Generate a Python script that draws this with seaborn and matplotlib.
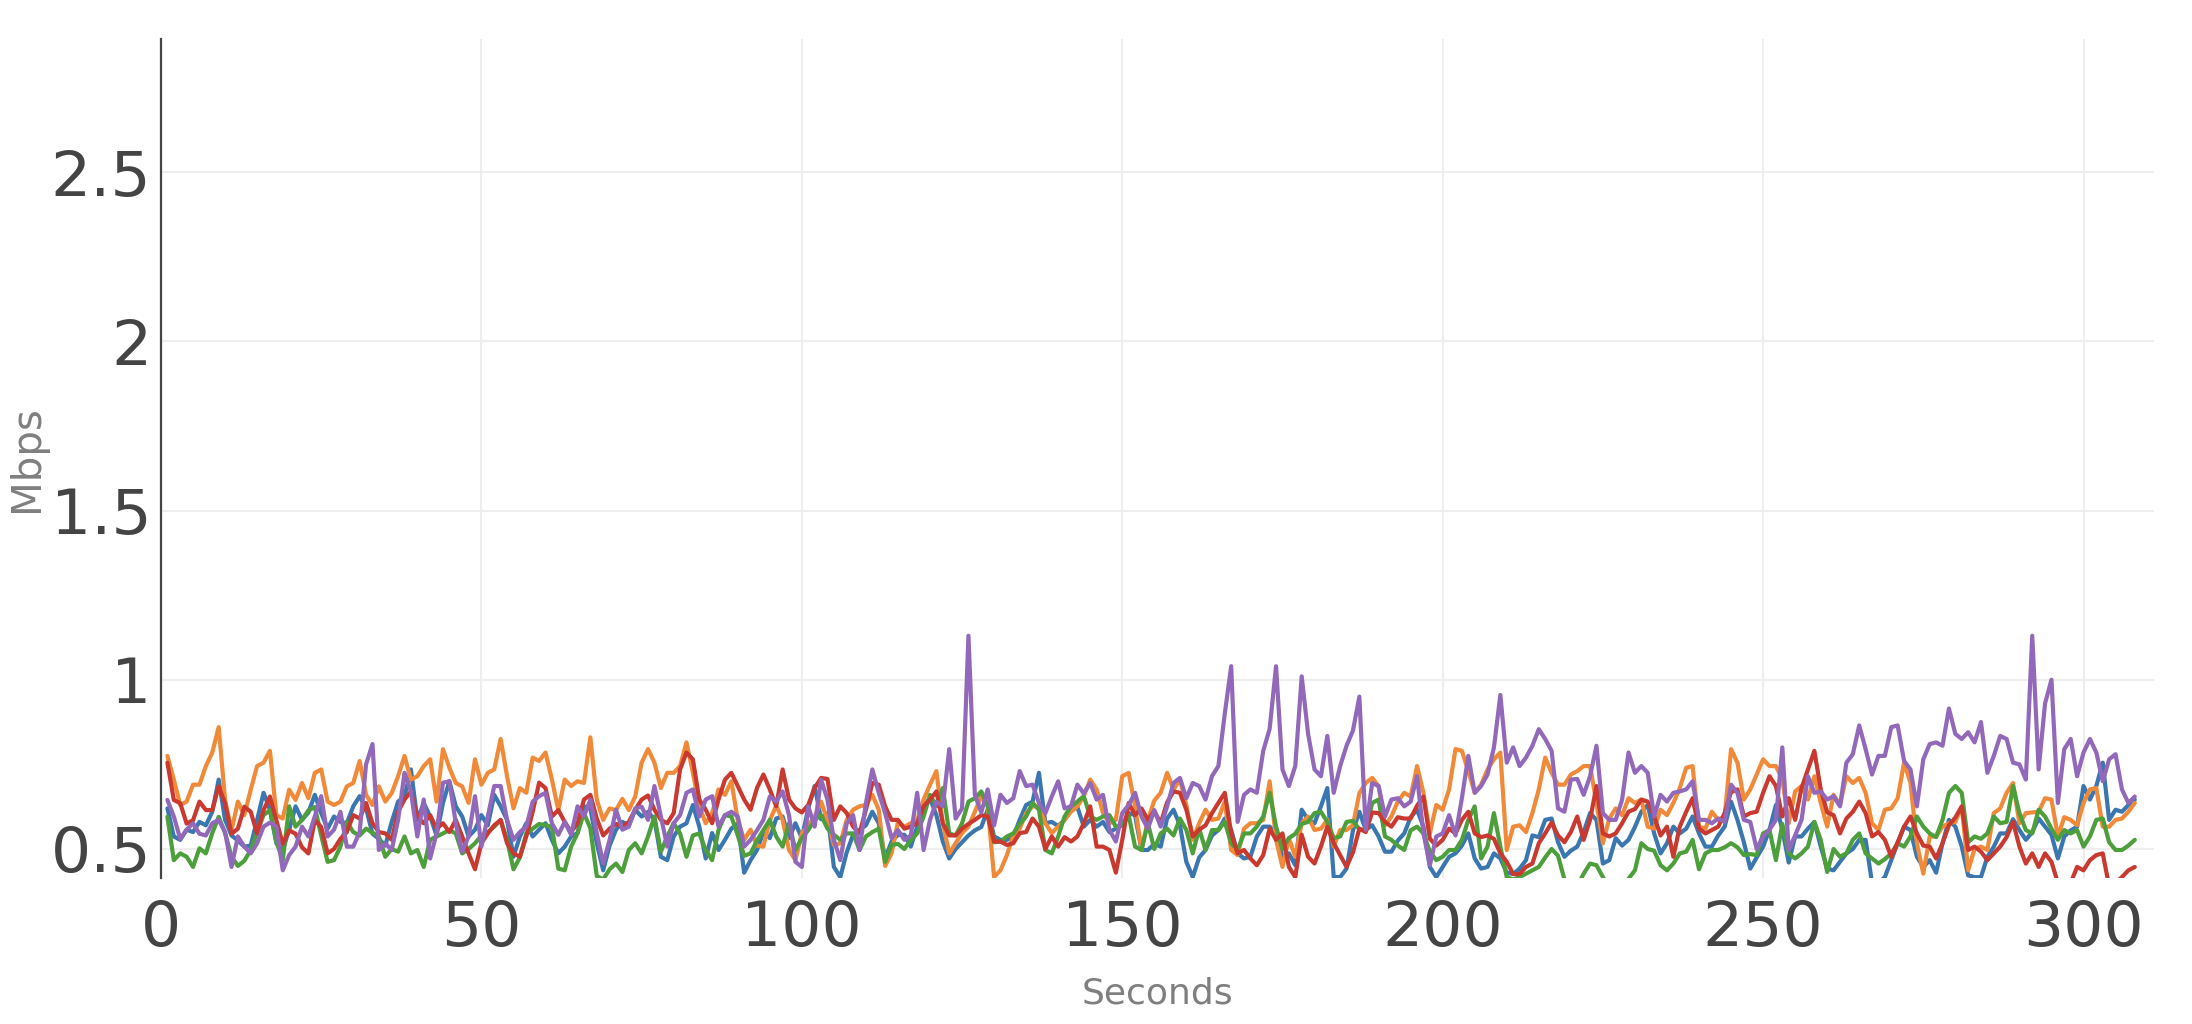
import numpy as np
import pandas as pd
import matplotlib
matplotlib.use("Agg")
import matplotlib.pyplot as plt
import seaborn as sns

# ---- data (one value per second, t = 1..308) ----
blue = [
    0.62, 0.537, 0.527, 0.557, 0.55, 0.58, 0.57, 0.61, 0.705, 0.586,
    0.54, 0.525, 0.507, 0.51, 0.586, 0.666, 0.616, 0.517, 0.497, 0.557,
    0.626, 0.586, 0.608, 0.66, 0.606, 0.56, 0.596, 0.58, 0.576, 0.626, 0.656,
    0.62, 0.545, 0.53, 0.51, 0.58, 0.64, 0.655, 0.735, 0.586, 0.636,
    0.596, 0.54, 0.636, 0.70, 0.626, 0.596, 0.537, 0.557, 0.60, 0.57,
    0.66, 0.626, 0.586, 0.477, 0.537, 0.576, 0.537, 0.557, 0.576, 0.527,
    0.487, 0.507, 0.537, 0.547, 0.626, 0.62, 0.517, 0.437, 0.51, 0.557,
    0.58, 0.57, 0.616, 0.596, 0.61, 0.586, 0.477, 0.467, 0.537, 0.566,
    0.576, 0.63, 0.566, 0.472, 0.547, 0.497, 0.527, 0.56, 0.576, 0.43, 0.467,
    0.497,
    0.55, 0.532, 0.59, 0.596, 0.532, 0.576, 0.532, 0.62, 0.686, 0.588,
    0.606, 0.447, 0.417, 0.49, 0.542, 0.556, 0.57, 0.61, 0.576, 0.472,
    0.522, 0.542, 0.542, 0.507, 0.566, 0.626, 0.65, 0.60, 0.522, 0.472, 0.50,
    0.52, 0.54, 0.555, 0.565, 0.616, 0.537, 0.527, 0.527, 0.537, 0.586,
    0.63, 0.64, 0.725, 0.576, 0.58, 0.568, 0.586, 0.614, 0.624, 0.566,
    0.586, 0.566, 0.58, 0.55, 0.56, 0.57, 0.606, 0.60, 0.497, 0.497, 0.515,
    0.507, 0.59, 0.616, 0.57, 0.462, 0.417, 0.475, 0.497, 0.54, 0.556,
    0.59, 0.556, 0.487, 0.472, 0.477, 0.537, 0.566, 0.566, 0.547, 0.477,
    0.487, 0.452, 0.616, 0.586, 0.576, 0.626, 0.68, 0.417, 0.417, 0.442,
    0.555, 0.61,
    0.557, 0.57, 0.537, 0.492, 0.492, 0.525, 0.546, 0.594, 0.616, 0.566,
    0.447, 0.417, 0.447, 0.477, 0.487, 0.51, 0.546, 0.472, 0.442, 0.447,
    0.487, 0.472, 0.43, 0.426, 0.442, 0.467, 0.54, 0.535, 0.586, 0.59, 0.52,
    0.477, 0.495, 0.507, 0.55, 0.606, 0.586, 0.457, 0.467, 0.532, 0.51,
    0.527, 0.565, 0.61, 0.63, 0.546, 0.487, 0.517, 0.566, 0.546, 0.56,
    0.596, 0.546, 0.507, 0.507, 0.54, 0.566, 0.64, 0.586, 0.52, 0.442, 0.475,
    0.507, 0.557, 0.63, 0.557, 0.46, 0.537, 0.537, 0.56, 0.58, 0.507,
    0.442, 0.437, 0.462, 0.487, 0.50, 0.527, 0.527, 0.40, 0.40, 0.417,
    0.467, 0.517, 0.566, 0.556, 0.477, 0.447, 0.467, 0.43, 0.517, 0.586, 0.566,
    0.507, 0.422, 0.417, 0.417, 0.477, 0.507, 0.546, 0.546, 0.588, 0.556,
    0.527, 0.55, 0.59, 0.566, 0.542, 0.472, 0.537, 0.555, 0.566, 0.686,
    0.646, 0.686, 0.755, 0.586, 0.616, 0.61, 0.63, 0.646,
]

orange = [
    0.775, 0.705, 0.63, 0.64, 0.69, 0.69, 0.745, 0.785, 0.86, 0.645,
    0.555, 0.64, 0.60, 0.675, 0.745, 0.755, 0.79, 0.60, 0.59, 0.675,
    0.645, 0.695, 0.65, 0.725, 0.735, 0.64, 0.63, 0.64, 0.685, 0.695, 0.76,
    0.66, 0.63, 0.685, 0.64, 0.665, 0.715, 0.775, 0.705, 0.715, 0.745,
    0.765, 0.64, 0.795, 0.74, 0.695, 0.685, 0.636, 0.765, 0.69, 0.725,
    0.735, 0.825, 0.715, 0.62, 0.68, 0.666, 0.77, 0.76, 0.785, 0.705,
    0.615, 0.705, 0.686, 0.70, 0.695, 0.83, 0.646, 0.586, 0.62, 0.615,
    0.648, 0.615, 0.655, 0.755, 0.795, 0.755, 0.68, 0.725, 0.725, 0.745,
    0.815, 0.725, 0.626, 0.576, 0.606, 0.676, 0.66, 0.70, 0.586, 0.527, 0.557,
    0.51,
    0.507, 0.585, 0.628, 0.586, 0.497, 0.467, 0.547, 0.57, 0.596, 0.64,
    0.586, 0.512, 0.517, 0.586, 0.616, 0.626, 0.63, 0.66, 0.616, 0.45,
    0.487, 0.58, 0.566, 0.576, 0.586, 0.646, 0.69, 0.73, 0.576, 0.487, 0.517,
    0.547, 0.566, 0.61, 0.656, 0.626, 0.417, 0.437, 0.482, 0.54, 0.56,
    0.606, 0.626, 0.626, 0.576, 0.547, 0.566, 0.586, 0.61, 0.626, 0.656,
    0.705, 0.676, 0.606, 0.576, 0.586, 0.715, 0.725, 0.626, 0.497, 0.586, 0.643,
    0.666, 0.725, 0.676, 0.705, 0.63, 0.527, 0.576, 0.616, 0.586, 0.59,
    0.64, 0.497, 0.482, 0.56, 0.576, 0.576, 0.586, 0.70, 0.527, 0.447,
    0.532, 0.477, 0.576, 0.596, 0.556, 0.56, 0.586, 0.507, 0.556, 0.556,
    0.57, 0.665,
    0.695, 0.71, 0.686, 0.57, 0.596, 0.64, 0.666, 0.655, 0.745, 0.666,
    0.546, 0.63, 0.616, 0.676, 0.795, 0.79, 0.73, 0.666, 0.69, 0.735,
    0.765, 0.785, 0.497, 0.566, 0.57, 0.55, 0.606, 0.676, 0.77, 0.725, 0.69,
    0.69, 0.72, 0.73, 0.745, 0.745, 0.636, 0.517, 0.59, 0.62, 0.60,
    0.65, 0.636, 0.646, 0.566, 0.56, 0.616, 0.60, 0.636, 0.68, 0.74,
    0.745, 0.566, 0.56, 0.61, 0.586, 0.596, 0.795, 0.755, 0.646, 0.676, 0.72,
    0.765, 0.745, 0.745, 0.705, 0.576, 0.67, 0.686, 0.646, 0.715, 0.636,
    0.566, 0.66, 0.63, 0.715, 0.695, 0.71, 0.666, 0.576, 0.556, 0.616,
    0.62, 0.65, 0.755, 0.695, 0.517, 0.427, 0.537, 0.537, 0.566, 0.576, 0.58,
    0.626, 0.437, 0.50, 0.507, 0.497, 0.606, 0.62, 0.666, 0.695, 0.576,
    0.606, 0.608, 0.61, 0.65, 0.646, 0.537, 0.594, 0.586, 0.57, 0.636,
    0.676, 0.68, 0.566, 0.566, 0.586, 0.59, 0.61, 0.636,
]

green = [
    0.595, 0.467, 0.487, 0.477, 0.447, 0.502, 0.487, 0.547, 0.595, 0.547,
    0.477, 0.45, 0.465, 0.497, 0.55, 0.60, 0.615, 0.522, 0.467, 0.626,
    0.566, 0.586, 0.614, 0.624, 0.54, 0.462, 0.467, 0.507, 0.58, 0.55, 0.54,
    0.56, 0.548, 0.537, 0.477, 0.50, 0.492, 0.537, 0.487, 0.497, 0.447,
    0.527, 0.537, 0.546, 0.556, 0.546, 0.487, 0.50, 0.517, 0.54, 0.55,
    0.566, 0.586, 0.527, 0.44, 0.475, 0.546, 0.56, 0.574, 0.57, 0.566,
    0.442, 0.437, 0.507, 0.547, 0.606, 0.561, 0.42, 0.41, 0.44, 0.457,
    0.432, 0.497, 0.517, 0.487, 0.537, 0.596, 0.492, 0.537, 0.576, 0.546,
    0.477, 0.54, 0.546, 0.497, 0.467, 0.556, 0.60, 0.596, 0.54, 0.48, 0.487,
    0.525,
    0.556, 0.586, 0.537, 0.507, 0.576, 0.497, 0.532, 0.556, 0.586, 0.60,
    0.56, 0.542, 0.527, 0.546, 0.546, 0.497, 0.537, 0.55, 0.56, 0.462,
    0.512, 0.515, 0.50, 0.527, 0.546, 0.596, 0.66, 0.626, 0.68, 0.546, 0.54,
    0.576, 0.64, 0.65, 0.67, 0.63, 0.52, 0.522, 0.537, 0.546, 0.574,
    0.596, 0.636, 0.616, 0.497, 0.487, 0.537, 0.596, 0.626, 0.64, 0.656,
    0.596, 0.586, 0.596, 0.60, 0.566, 0.57, 0.60, 0.507, 0.497, 0.576, 0.50,
    0.546, 0.56, 0.54, 0.59, 0.556, 0.487, 0.56, 0.497, 0.556, 0.556,
    0.58, 0.517, 0.497, 0.546, 0.546, 0.566, 0.596, 0.666, 0.566, 0.50,
    0.532, 0.545, 0.574, 0.58, 0.606, 0.61, 0.58, 0.532, 0.537, 0.58,
    0.583, 0.558,
    0.556, 0.636, 0.646, 0.537, 0.527, 0.51, 0.497, 0.555, 0.566, 0.546,
    0.492, 0.467, 0.477, 0.497, 0.497, 0.527, 0.586, 0.626, 0.472, 0.507,
    0.606, 0.507, 0.417, 0.41, 0.417, 0.427, 0.437, 0.447, 0.475, 0.50, 0.48,
    0.41, 0.385, 0.39, 0.427, 0.457, 0.452, 0.417, 0.385, 0.38, 0.39,
    0.412, 0.437, 0.517, 0.50, 0.495, 0.452, 0.437, 0.457, 0.487, 0.492,
    0.527, 0.44, 0.487, 0.497, 0.497, 0.505, 0.517, 0.505, 0.482, 0.485, 0.482,
    0.546, 0.556, 0.467, 0.574, 0.487, 0.472, 0.487, 0.507, 0.58, 0.527,
    0.432, 0.50, 0.477, 0.487, 0.527, 0.546, 0.487, 0.472, 0.457, 0.47,
    0.487, 0.517, 0.507, 0.537, 0.596, 0.566, 0.546, 0.535, 0.586, 0.666, 0.686,
    0.666, 0.52, 0.537, 0.53, 0.546, 0.596, 0.576, 0.58, 0.686, 0.606,
    0.556, 0.546, 0.616, 0.596, 0.56, 0.527, 0.556, 0.546, 0.556, 0.507,
    0.537, 0.586, 0.59, 0.52, 0.497, 0.497, 0.51, 0.527,
]

red = [
    0.755, 0.645, 0.635, 0.575, 0.585, 0.64, 0.615, 0.615, 0.685, 0.635,
    0.545, 0.56, 0.625, 0.61, 0.545, 0.615, 0.655, 0.585, 0.515, 0.555,
    0.545, 0.505, 0.487, 0.585, 0.565, 0.487, 0.50, 0.53, 0.55, 0.60, 0.59,
    0.636, 0.576, 0.55, 0.546, 0.527, 0.61, 0.646, 0.67, 0.596, 0.576,
    0.60, 0.56, 0.576, 0.55, 0.586, 0.537, 0.487, 0.44, 0.517, 0.546,
    0.57, 0.586, 0.517, 0.487, 0.477, 0.537, 0.61, 0.696, 0.68, 0.596,
    0.615, 0.58, 0.55, 0.576, 0.646, 0.66, 0.59, 0.54, 0.56, 0.574,
    0.566, 0.58, 0.616, 0.646, 0.658, 0.616, 0.586, 0.576, 0.606, 0.735,
    0.785, 0.765, 0.646, 0.616, 0.576, 0.646, 0.705, 0.725, 0.686, 0.646, 0.616,
    0.68,
    0.72, 0.676, 0.626, 0.735, 0.646, 0.62, 0.608, 0.63, 0.68, 0.71,
    0.707, 0.586, 0.626, 0.606, 0.566, 0.547, 0.616, 0.695, 0.69, 0.626,
    0.586, 0.586, 0.56, 0.566, 0.576, 0.626, 0.646, 0.67, 0.576, 0.54, 0.54,
    0.56, 0.574, 0.586, 0.60, 0.596, 0.522, 0.522, 0.512, 0.517, 0.547,
    0.55, 0.59, 0.566, 0.50, 0.537, 0.507, 0.535, 0.522, 0.537, 0.576,
    0.626, 0.507, 0.507, 0.497, 0.43, 0.527, 0.636, 0.60, 0.62, 0.586, 0.612,
    0.576, 0.638, 0.67, 0.666, 0.616, 0.537, 0.557, 0.57, 0.606, 0.636,
    0.666, 0.547, 0.487, 0.497, 0.472, 0.452, 0.482, 0.56, 0.527, 0.546,
    0.447, 0.417, 0.542, 0.477, 0.457, 0.507, 0.566, 0.517, 0.482, 0.447,
    0.49, 0.56,
    0.55, 0.608, 0.606, 0.58, 0.566, 0.594, 0.59, 0.59, 0.628, 0.655,
    0.53, 0.51, 0.527, 0.56, 0.546, 0.586, 0.61, 0.546, 0.535, 0.54,
    0.53, 0.487, 0.462, 0.426, 0.426, 0.447, 0.457, 0.517, 0.546, 0.578, 0.54,
    0.52, 0.55, 0.596, 0.527, 0.586, 0.686, 0.546, 0.537, 0.546, 0.576,
    0.61, 0.618, 0.646, 0.64, 0.596, 0.54, 0.566, 0.477, 0.566, 0.61,
    0.65, 0.56, 0.546, 0.556, 0.566, 0.606, 0.668, 0.676, 0.596, 0.606, 0.61,
    0.666, 0.715, 0.686, 0.596, 0.65, 0.586, 0.68, 0.735, 0.79, 0.676,
    0.608, 0.60, 0.546, 0.59, 0.61, 0.64, 0.606, 0.537, 0.55, 0.527,
    0.477, 0.52, 0.566, 0.596, 0.546, 0.51, 0.507, 0.472, 0.517, 0.57, 0.593,
    0.626, 0.497, 0.507, 0.492, 0.467, 0.487, 0.507, 0.535, 0.58, 0.507,
    0.457, 0.487, 0.447, 0.487, 0.462, 0.40, 0.39, 0.40, 0.447, 0.437,
    0.467, 0.482, 0.487, 0.39, 0.40, 0.417, 0.437, 0.447,
]

purple = [
    0.645, 0.596, 0.53, 0.557, 0.576, 0.545, 0.54, 0.576, 0.586, 0.55,
    0.447, 0.537, 0.507, 0.487, 0.517, 0.566, 0.578, 0.566, 0.437, 0.482,
    0.507, 0.566, 0.537, 0.596, 0.656, 0.537, 0.557, 0.61, 0.507, 0.507, 0.55,
    0.75, 0.81, 0.497, 0.517, 0.497, 0.586, 0.725, 0.67, 0.537, 0.646,
    0.472, 0.546, 0.696, 0.70, 0.576, 0.492, 0.537, 0.656, 0.507, 0.596,
    0.686, 0.686, 0.586, 0.527, 0.55, 0.566, 0.64, 0.656, 0.666, 0.576,
    0.542, 0.58, 0.542, 0.626, 0.596, 0.646, 0.547, 0.457, 0.527, 0.616,
    0.557, 0.566, 0.62, 0.625, 0.586, 0.686, 0.596, 0.507, 0.576, 0.60,
    0.666, 0.676, 0.596, 0.646, 0.656, 0.566, 0.60, 0.61, 0.596, 0.507, 0.527,
    0.555,
    0.586, 0.655, 0.64, 0.67, 0.60, 0.462, 0.447, 0.626, 0.566, 0.705,
    0.646, 0.527, 0.467, 0.576, 0.60, 0.497, 0.636, 0.735, 0.666, 0.606,
    0.532, 0.556, 0.527, 0.54, 0.666, 0.497, 0.586, 0.64, 0.626, 0.795, 0.59,
    0.62, 1.13, 0.66, 0.608, 0.676, 0.57, 0.66, 0.636, 0.65, 0.73,
    0.686, 0.69, 0.636, 0.606, 0.655, 0.70, 0.62, 0.626, 0.69, 0.664,
    0.695, 0.646, 0.66, 0.556, 0.522, 0.606, 0.63, 0.666, 0.596, 0.56, 0.615,
    0.566, 0.626, 0.695, 0.71, 0.65, 0.695, 0.686, 0.646, 0.715, 0.745,
    0.90, 1.04, 0.58, 0.66, 0.676, 0.666, 0.79, 0.855, 1.04, 0.735,
    0.686, 0.745, 1.01, 0.84, 0.735, 0.715, 0.834, 0.666, 0.745, 0.805,
    0.85, 0.95,
    0.557, 0.695, 0.686, 0.596, 0.646, 0.65, 0.626, 0.64, 0.715, 0.547,
    0.452, 0.537, 0.546, 0.60, 0.54, 0.65, 0.775, 0.666, 0.686, 0.72,
    0.80, 0.955, 0.755, 0.80, 0.745, 0.77, 0.805, 0.854, 0.825, 0.79, 0.62,
    0.61, 0.705, 0.707, 0.66, 0.715, 0.805, 0.606, 0.586, 0.586, 0.646,
    0.785, 0.725, 0.745, 0.725, 0.596, 0.66, 0.64, 0.666, 0.67, 0.676,
    0.70, 0.586, 0.586, 0.576, 0.59, 0.58, 0.69, 0.666, 0.586, 0.58, 0.50,
    0.537, 0.557, 0.586, 0.80, 0.497, 0.54, 0.586, 0.715, 0.666, 0.67,
    0.646, 0.656, 0.626, 0.755, 0.78, 0.865, 0.795, 0.72, 0.775, 0.775,
    0.86, 0.865, 0.76, 0.735, 0.626, 0.765, 0.81, 0.815, 0.805, 0.915, 0.84,
    0.825, 0.845, 0.815, 0.875, 0.725, 0.775, 0.834, 0.825, 0.755, 0.75,
    0.705, 1.13, 0.735, 0.93, 1.0, 0.636, 0.795, 0.825, 0.715, 0.785,
    0.825, 0.785, 0.70, 0.765, 0.78, 0.676, 0.636, 0.655,
]

series_names = ["blue", "orange", "green", "red", "purple"]
series_values = [blue, orange, green, red, purple]
colors = ["#3a76b0", "#f08a38", "#4c9f3b", "#c9392f", "#9168ba"]

x_ticks = [0, 50, 100, 150, 200, 250, 300]
y_ticks = [0.5, 1.0, 1.5, 2.0, 2.5]
y_tick_labels = ["0.5", "1", "1.5", "2", "2.5"]

# ---- long-form table ----
frames = []
for name, vals in zip(series_names, series_values):
    frames.append(pd.DataFrame({
        "Seconds": np.arange(1, len(vals) + 1),
        "Mbps": vals,
        "series": name,
    }))
df = pd.concat(frames, ignore_index=True)

sns.set_theme(style="white")
plt.rcParams["font.family"] = ["DejaVu Sans"]

W, H = 2192, 1024
fig = plt.figure(figsize=(W / 100, H / 100), dpi=100)
left, right, top, bottom = 161, 2154, 39, 878
ax = fig.add_axes([left / W, 1 - bottom / H, (right - left) / W, (bottom - top) / H])

sns.lineplot(data=df, x="Seconds", y="Mbps", hue="series",
             hue_order=series_names, palette=dict(zip(series_names, colors)),
             estimator=None, errorbar=None, linewidth=3.0, legend=False, ax=ax)

ax.set_xlim(0, 311)
ax.set_ylim(0.4143, 2.893)
ax.set_xticks(x_ticks)
ax.set_xticklabels([str(v) for v in x_ticks])
ax.set_yticks(y_ticks)
ax.set_yticklabels(y_tick_labels)

ax.grid(True, color="#eeeeee", linewidth=1.5)
ax.set_axisbelow(True)
for s in ["top", "right", "bottom"]:
    ax.spines[s].set_visible(False)
ax.spines["left"].set_color("#444444")
ax.spines["left"].set_linewidth(1.6)

ax.tick_params(axis="x", length=0, pad=15, labelsize=45.5, labelcolor="#444444")
ax.tick_params(axis="y", length=0, pad=7, labelsize=45.5, labelcolor="#444444")

ax.set_xlabel("Seconds", fontsize=26, color="#7f7f7f", va="center")
ax.set_ylabel("Mbps", fontsize=29, color="#7f7f7f", va="center")
ax.xaxis.set_label_coords(0.5, (bottom - 994) / (bottom - top))
ax.yaxis.set_label_coords((27 - left) / (right - left), 0.5)

fig.savefig("out.png", dpi=100, facecolor="white")
